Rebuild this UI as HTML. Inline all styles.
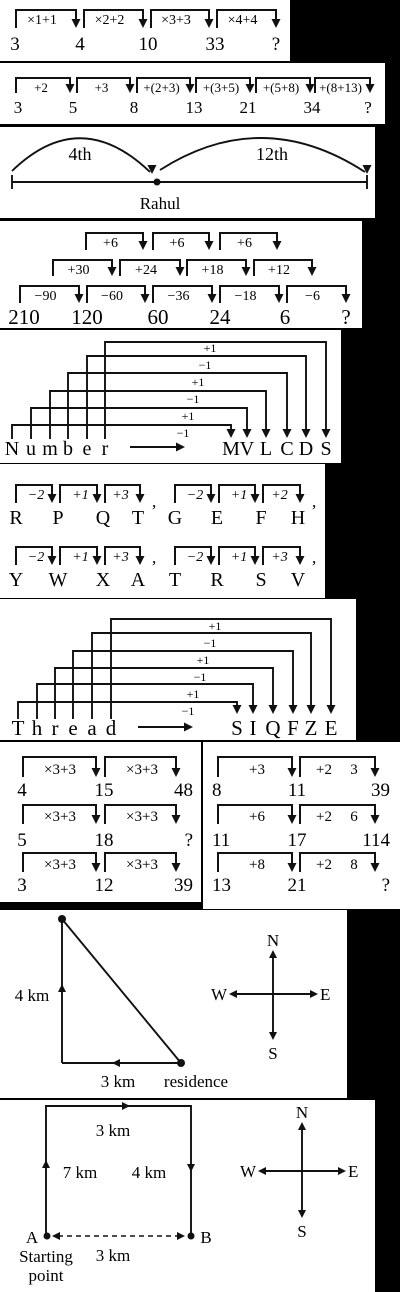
<!DOCTYPE html>
<html><head><meta charset="utf-8"><style>
html,body{margin:0;padding:0;background:#000;}
svg{display:block;}
text{font-family:"Liberation Serif",serif;fill:#000;}
</style></head><body>
<svg id="s" width="400" height="1292" viewBox="0 0 400 1292" xmlns="http://www.w3.org/2000/svg">
<rect x="0" y="0" width="400" height="1292" fill="#000"/>
</svg>
<script>
const NS="http://www.w3.org/2000/svg";
const svg=document.getElementById('s');
function mk(tag,attrs,name,parent){
  const el=document.createElementNS(NS,tag);
  for(const k in attrs) el.setAttribute(k,attrs[k]);
  
  
  (parent||svg).appendChild(el);
  return el;
}
function txt(x,y,s,size,name,anchor,extra){
  const a={x:x,y:y,'font-size':size,'text-anchor':anchor||'middle'};
  if(extra) for(const k in extra) a[k]=extra[k];
  const t=mk('text',a,name);
  t.textContent=s;
  return t;
}
function line(x1,y1,x2,y2,name,w,dash){
  const a={x1:x1,y1:y1,x2:x2,y2:y2,stroke:'#111','stroke-width':w||1.9};
  if(dash) a['stroke-dasharray']=dash;
  return mk('line',a,name);
}
function head(x,y,dir,name,s){
  s=s||4.5;let p;
  if(dir==='d') p=[[x-s,y-2*s],[x+s,y-2*s],[x,y]];
  if(dir==='u') p=[[x-s,y+2*s],[x+s,y+2*s],[x,y]];
  if(dir==='r') p=[[x-2*s,y-s],[x-2*s,y+s],[x,y]];
  if(dir==='l') p=[[x+2*s,y-s],[x+2*s,y+s],[x,y]];
  return mk('polygon',{points:p.map(q=>q.join(',')).join(' '),fill:'#111'},name);
}
function bracket(x1,x2,top,bot,name){
  mk('path',{d:`M${x1},${bot} V${top} H${x2} V${bot-6}`,fill:'none',stroke:'#111','stroke-width':2},name);
  head(x2,bot,'d',name+'-arrowhead',4.5);
}
function panel(x,y,w,h,name){
  mk('rect',{x:x,y:y,width:w,height:h,fill:'#fff'},name);
}
panel(0,0,290,61,'panel-1');
panel(0,63,385,61,'panel-2');
panel(0,127,375,91,'panel-3');
panel(0,221,362,107,'panel-4');
panel(0,330,341,133,'panel-5');
panel(0,464,325,134,'panel-6');
panel(0,599,356,141,'panel-7');
panel(0,742,201,160,'panel-8a');
panel(203,742,197,167,'panel-8b');
panel(0,910,347,188,'panel-9');
panel(0,1100,375,192,'panel-10');

// Panel 1
const p1Labels=['×1+1','×2+2','×3+3','×4+4'];
const p1Nums=['3','4','10','33','?'];
const p1Br=[[16,76],[84,143],[151,209],[217,276]];
p1Br.forEach((b,i)=>{bracket(b[0],b[1],10,28,'p1-bracket');txt((b[0]+b[1])/2-4,24,p1Labels[i],14,'p1-label');});
[15,80,148,215,276].forEach((x,i)=>txt(x,50,p1Nums[i],19,'p1-number'));

// Panel 2
const p2Labels=['+2','+3','+(2+3)','+(3+5)','+(5+8)','+(8+13)'];
const p2Nums=['3','5','8','13','21','34','?'];
const p2Br=[[16,70],[77,130],[137,190],[196,250],[256,310],[315,370]];
p2Br.forEach((b,i)=>{bracket(b[0],b[1],78,93,'p2-bracket');txt((b[0]+b[1])/2-2,92,p2Labels[i],13,'p2-label');});
[18,73,134,194,248,312,368].forEach((x,i)=>txt(x,113,p2Nums[i],17,'p2-number'));

// Panel 3
line(12,182,367,182,'p3-line');
line(12,175,12,189,'p3-tick-left');
line(367,175,367,189,'p3-tick-right');
mk('circle',{cx:157,cy:182,r:3.5,fill:'#111'},'p3-rahul-dot');
mk('path',{d:'M12,171 Q80,105 150,172',fill:'none',stroke:'#111','stroke-width':1.9},'p3-arc-4th');
head(152,174,'d','p3-arc-head',4.5);
mk('path',{d:'M160,170 Q262,105 365,172',fill:'none',stroke:'#111','stroke-width':1.9},'p3-arc-12th');
head(367,174,'d','p3-arc-head',4.5);
txt(80,160,'4th',18,'p3-label-4th');
txt(272,160,'12th',18,'p3-label-12th');
txt(160,209,'Rahul',17,'p3-label-rahul');

// Panel 4
const p4Row1=['+6','+6','+6'];
const p4Row2=['+30','+24','+18','+12'];
const p4Row3=['−90','−60','−36','−18','−6'];
const p4Nums=['210','120','60','24','6','?'];
[[86,143],[153,209],[220,277]].forEach((b,i)=>{bracket(b[0],b[1],233,250,'p4-bracket-row1');txt((b[0]+b[1])/2-4,247,p4Row1[i],14,'p4-label-row1');});
[[53,112],[120,180],[187,246],[254,312]].forEach((b,i)=>{bracket(b[0],b[1],260,276,'p4-bracket-row2');txt((b[0]+b[1])/2-4,274,p4Row2[i],14,'p4-label-row2');});
[[20,79],[87,145],[153,212],[220,279],[287,346]].forEach((b,i)=>{bracket(b[0],b[1],286,303,'p4-bracket-row3');txt((b[0]+b[1])/2-4,300,p4Row3[i],14,'p4-label-row3');});
[24,87,158,220,285,346].forEach((x,i)=>txt(x,324,p4Nums[i],21,'p4-number'));

// Panel 5 & 7
function mapping(srcX,tops,dstX,labels,labelPos,arrowY,srcWord,dstWord,baseY,arrow,prefix,size){
  srcX.forEach((x,i)=>{
    const k=srcX.length-1-i;
    const top=tops[k];
    mk('path',{d:`M${srcX[k]},${baseY-16} V${top} H${dstX[k]} V${arrowY-6}`,fill:'none',stroke:'#111','stroke-width':1.9},prefix+'-connector');
    head(dstX[k],arrowY,'d',prefix+'-arrowhead',4.5);
  });
  labels.forEach((l,i)=>txt(labelPos[i][0],labelPos[i][1],l,12,prefix+'-shift-label'));
  srcWord.forEach((c,i)=>txt(srcX[i],baseY,c,size,prefix+'-source-letter'));
  dstWord.forEach((c,i)=>txt(dstX[i],baseY,c,size,prefix+'-result-letter'));
  line(arrow[0],arrow[2],arrow[1]-8,arrow[2],prefix+'-transform-arrow');
  head(arrow[1],arrow[2],'r',prefix+'-transform-arrowhead',4.5);
}
mapping([12,31,50,68,87,105],[425,408,391,373,356,342],[231,247,266,287,306,326],
  ['+1','−1','+1','−1','+1','−1'],[[210,352],[205,369],[198,386],[193,403],[188,420],[183,437]],
  438,['N','u','m','b','e','r'],['M','V','L','C','D','S'],455,[130,185,447],'p5',20);
mapping([18,37,55,73,92,111],[702,684,668,651,633,619],[237,253,273,293,311,331],
  ['+1','−1','+1','−1','+1','−1'],[[215,630],[210,647],[203,664],[200,681],[193,698],[188,715]],
  714,['T','h','r','e','a','d'],['S','I','Q','F','Z','E'],735,[138,193,727],'p7',21);

// Panel 6
const p6Labels=[['−2','+1','+3'],['−2','+1','+2'],['−2','+1','+3'],['−2','+1','+3']];
const p6Letters=[['R','P','Q','T'],['G','E','F','H'],['Y','W','X','A'],['T','R','S','V']];
const p6GroupX=[[16,60,105,140],[175,219,263,300]];
const p6RowY=[[485,503,524],[547,565,586]];
for(let r=0;r<2;r++){for(let g=0;g<2;g++){
  const idx=r*2+g;const gx=p6GroupX[g];const ry=p6RowY[r];
  for(let j=0;j<3;j++){
    bracket(gx[j],gx[j+1]-(j<2?8:0),ry[0],ry[1],'p6-bracket');
    txt((gx[j]+gx[j+1])/2-2,ry[1]-4,p6Labels[idx][j],14,'p6-label',null,{'font-style':'italic'});
  }
  p6Letters[idx].forEach((c,j)=>txt(gx[j]+(j===0?0:-2),ry[2],c,20,'p6-letter'));
  txt(gx[3]+14,ry[2]-(r===0?8:14),'’',17,'p6-comma');
}}

// Panel 8
const p8aNums=[['4','15','48'],['5','18','?'],['3','12','39']];
const p8bOps=['+3','+6','+8'];
const p8bMul=['3','6','8'];
const p8bNums=[['8','11','39'],['11','17','114'],['13','21','?']];
const p8RowY=[[757,777,796],[805,824,846],[853,872,891]];
p8RowY.forEach((ry,r)=>{
  bracket(23,96,ry[0],ry[1],'p8a-bracket');bracket(105,176,ry[0],ry[1],'p8a-bracket');
  txt(60,ry[1]-3,'×3+3',15,'p8a-label');txt(142,ry[1]-3,'×3+3',15,'p8a-label');
  txt(22,ry[2],p8aNums[r][0],19,'p8a-number','middle');
  txt(104,ry[2],p8aNums[r][1],19,'p8a-number','middle');
  txt(193,ry[2],p8aNums[r][2],19,'p8a-number','end');
  bracket(218,292,ry[0],ry[1],'p8b-bracket');bracket(300,375,ry[0],ry[1],'p8b-bracket');
  txt(257,ry[1]-3,p8bOps[r],15,'p8b-label');
  txt(324,ry[1]-3,'+2',15,'p8b-label');
  txt(354,ry[1]-3,p8bMul[r],15,'p8b-label');
  txt(212,ry[2],p8bNums[r][0],19,'p8b-number','start');
  txt(297,ry[2],p8bNums[r][1],19,'p8b-number','middle');
  txt(390,ry[2],p8bNums[r][2],19,'p8b-number','end');
});

// Panel 9
line(62,919,62,1063,'p9-north-path');
line(62,1063,181,1063,'p9-west-path');
line(62,919,181,1063,'p9-diagonal');
mk('circle',{cx:62,cy:919,r:4,fill:'#111'},'p9-end-dot');
mk('circle',{cx:181,cy:1063,r:4,fill:'#111'},'p9-residence-dot');
head(62,984,'u','p9-up-arrow',4);
head(112,1063,'l','p9-left-arrow',4);
txt(32,1001,'4 km',17,'p9-label-4km');
txt(118,1087,'3 km',17,'p9-label-3km');
txt(196,1087,'residence',17,'p9-label-residence');
function compass(cx,cy,hl,hr,vt,vb,prefix){
  line(hl+6,cy,hr-6,cy,prefix+'-ew-axis');line(cx,vt+6,cx,vb-6,prefix+'-ns-axis');
  head(hl,cy,'l',prefix+'-w-head',4);head(hr,cy,'r',prefix+'-e-head',4);
  head(cx,vt,'u',prefix+'-n-head',4);head(cx,vb,'d',prefix+'-s-head',4);
  txt(cx,vt-4,'N',17,prefix+'-north');txt(cx,vb+19,'S',17,prefix+'-south');
  txt(hl-2,cy+6,'W',17,prefix+'-west','end');txt(hr+2,cy+6,'E',17,prefix+'-east','start');
}
compass(273,994,229,318,950,1040,'p9-compass');

// Panel 10
mk('path',{d:'M46,1236 V1106 H191 V1236',fill:'none',stroke:'#111','stroke-width':1.9},'p10-route');
head(130,1106,'r','p10-right-arrow',4);
head(46,1160,'u','p10-up-arrow',4);
head(191,1172,'d','p10-down-arrow',4);
line(58,1236,180,1236,'p10-dashed-line',1.6,'5,4');
head(52,1236,'l','p10-dash-head-left',4);head(185,1236,'r','p10-dash-head-right',4);
mk('circle',{cx:47,cy:1236,r:3.5,fill:'#111'},'p10-dot-a');
mk('circle',{cx:191,cy:1236,r:3.5,fill:'#111'},'p10-dot-b');
txt(113,1136,'3 km',17,'p10-label-top-3km');
txt(80,1178,'7 km',17,'p10-label-7km');
txt(149,1178,'4 km',17,'p10-label-4km');
txt(32,1243,'A',17,'p10-label-a');
txt(206,1243,'B',17,'p10-label-b');
txt(46,1262,'Starting',17,'p10-label-starting');
txt(46,1281,'point',17,'p10-label-point');
txt(113,1261,'3 km',17,'p10-label-bottom-3km');
compass(302,1171,258,346,1122,1218,'p10-compass');
</script>
</body></html>
